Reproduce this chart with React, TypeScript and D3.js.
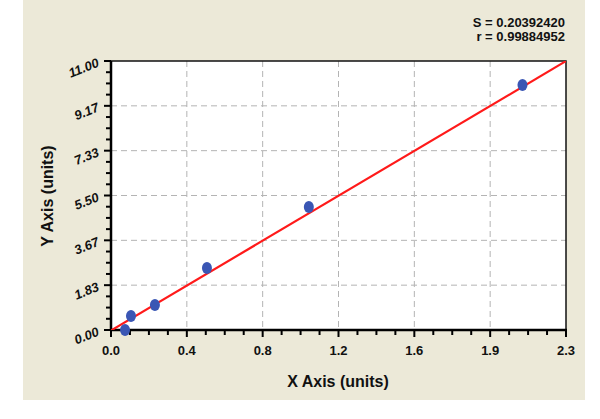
import React from "react";
import * as d3 from "d3";

const xTickValues = [0, 2.3 / 6, (2 * 2.3) / 6, (3 * 2.3) / 6, (4 * 2.3) / 6, (5 * 2.3) / 6, 2.3];
const xTickLabels = ["0.0", "0.4", "0.8", "1.2", "1.6", "1.9", "2.3"];
const yTickValues = [0, 11 / 6, 22 / 6, 33 / 6, 44 / 6, 55 / 6, 11];
const yTickLabels = ["0.00", "1.83", "3.67", "5.50", "7.33", "9.17", "11.00"];
const pointsX = [0.071, 0.101, 0.222, 0.485, 1.0, 2.08];
const pointsY = [0.0, 0.57, 1.02, 2.54, 5.03, 10.02];
const fitSlope = 4.79;
const fitIntercept = -0.02;
const statLines = ["S = 0.20392420", "r = 0.99884952"];

const W = 600;
const H = 419;
const plot = { left: 111, right: 566, top: 61, bottom: 330 };

export default function App() {
  const x = d3.scaleLinear().domain([0, 2.3]).range([plot.left, plot.right]);
  const y = d3.scaleLinear().domain([0, 11]).range([plot.bottom, plot.top]);

  const minorX: number[] = [];
  for (let i = 0; i < xTickValues.length - 1; i++) {
    const step = (xTickValues[i + 1] - xTickValues[i]) / 4;
    for (let k = 1; k < 4; k++) minorX.push(xTickValues[i] + k * step);
  }
  const minorY: number[] = [];
  for (let i = 0; i < yTickValues.length - 1; i++) {
    const step = (yTickValues[i + 1] - yTickValues[i]) / 4;
    for (let k = 1; k < 4; k++) minorY.push(yTickValues[i] + k * step);
  }

  const fitXs = [0, 2.3];
  const line = d3
    .line<number>()
    .x((d) => x(d))
    .y((d) => y(fitSlope * d + fitIntercept));

  const font = "Arial, 'Liberation Sans', Helvetica, sans-serif";

  return (
    <svg
      width={W}
      height={H}
      style={{ position: "absolute", left: 0, top: 0, background: "#ffffff" }}
      fontFamily={font}
    >
      <defs>
        <clipPath id="plotclip">
          <rect x={plot.left} y={plot.top} width={plot.right - plot.left} height={plot.bottom - plot.top} />
        </clipPath>
      </defs>
      <rect x={23} y={0} width={562} height={400} fill="#ECE9D8" />
      <rect
        x={plot.left}
        y={plot.top}
        width={plot.right - plot.left}
        height={plot.bottom - plot.top}
        fill="#ffffff"
      />
      {/* grid */}
      {xTickValues.slice(1, -1).map((v, i) => (
        <line
          key={"gx" + i}
          x1={x(v)}
          x2={x(v)}
          y1={plot.top}
          y2={plot.bottom}
          stroke="#b4b4b4"
          strokeWidth={1}
          strokeDasharray="6,4"
        />
      ))}
      {yTickValues.slice(1, -1).map((v, i) => (
        <line
          key={"gy" + i}
          x1={plot.left}
          x2={plot.right}
          y1={y(v)}
          y2={y(v)}
          stroke="#b4b4b4"
          strokeWidth={1}
          strokeDasharray="6,4"
        />
      ))}
      {/* border */}
      <rect
        x={plot.left}
        y={plot.top}
        width={plot.right - plot.left}
        height={plot.bottom - plot.top}
        fill="none"
        stroke="#111"
        strokeWidth={1.5}
      />
      <line x1={plot.left} x2={plot.left} y1={plot.top} y2={plot.bottom + 1} stroke="#000" strokeWidth={2.5} />
      <line x1={plot.left - 1} x2={plot.right + 1} y1={plot.bottom} y2={plot.bottom} stroke="#000" strokeWidth={2.5} />
      {/* ticks */}
      {xTickValues.map((v, i) => (
        <line key={"xt" + i} x1={x(v)} x2={x(v)} y1={plot.bottom} y2={plot.bottom + 7} stroke="#000" strokeWidth={2} />
      ))}
      {minorX.map((v, i) => (
        <line key={"xm" + i} x1={x(v)} x2={x(v)} y1={plot.bottom} y2={plot.bottom + 5} stroke="#000" strokeWidth={2} />
      ))}
      {yTickValues.map((v, i) => (
        <line key={"yt" + i} x1={plot.left - 7} x2={plot.left} y1={y(v)} y2={y(v)} stroke="#000" strokeWidth={2} />
      ))}
      {minorY.map((v, i) => (
        <line key={"ym" + i} x1={plot.left - 5} x2={plot.left} y1={y(v)} y2={y(v)} stroke="#000" strokeWidth={2} />
      ))}
      {/* tick labels */}
      {xTickValues.map((v, i) => (
        <text
          key={"xl" + i}
          x={x(v)}
          y={plot.bottom + 25}
          textAnchor="middle"
          fontSize={13}
          fontWeight="bold"
          fill="#111"
        >
          {xTickLabels[i]}
        </text>
      ))}
      {yTickValues.map((v, i) => (
        <text
          key={"yl" + i}
          transform={`translate(${plot.left - 11},${y(v) + 5}) rotate(-22)`}
          textAnchor="end"
          fontSize={13}
          fontWeight="bold"
          fontStyle="italic"
          fill="#111"
        >
          {yTickLabels[i]}
        </text>
      ))}
      {/* fit line */}
      <path
        d={line(fitXs) || ""}
        fill="none"
        stroke="#ff1a1a"
        strokeWidth={2.2}
        clipPath="url(#plotclip)"
      />
      {/* points */}
      {pointsX.map((v, i) => (
        <ellipse key={"p" + i} cx={x(v)} cy={y(pointsY[i])} rx={5} ry={6} fill="#3a56b4" />
      ))}
      {/* titles */}
      <text x={338} y={387} textAnchor="middle" fontSize={16} fontWeight="bold" fill="#111">
        X Axis (units)
      </text>
      <text
        transform={`translate(53,196) rotate(-90)`}
        textAnchor="middle"
        fontSize={16}
        fontWeight="bold"
        fill="#111"
      >
        Y Axis (units)
      </text>
      {statLines.map((s, i) => (
        <text key={"s" + i} x={565} y={27 + i * 14} textAnchor="end" fontSize={13} fontWeight="bold" fill="#111">
          {s}
        </text>
      ))}
    </svg>
  );
}
